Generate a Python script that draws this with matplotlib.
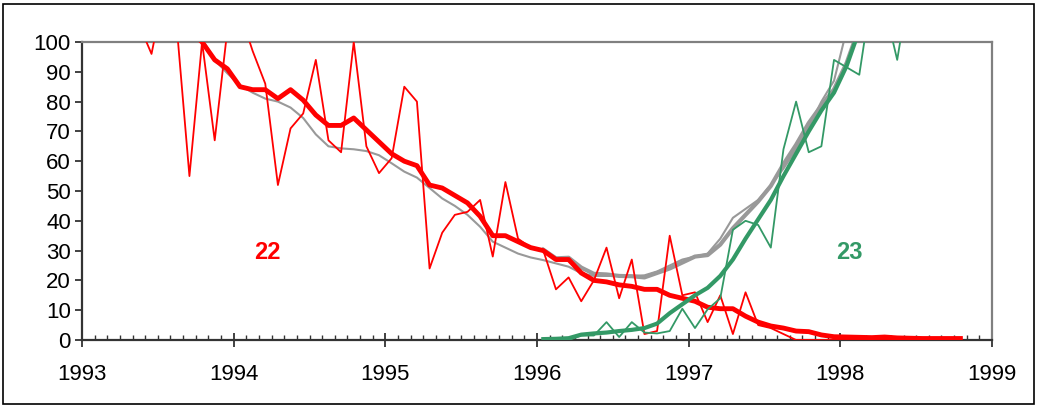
import numpy as np
import matplotlib.pyplot as plt
from matplotlib.patches import Rectangle

plt.rcParams['font.family'] = ['Liberation Sans', 'DejaVu Sans']

# monthly values, index k = months since Jan 1993 (plotted at mid-month)
red_thin_start = 4
red_thin = [106, 96, 117, 105, 55, 100, 67, 104, 110, 97, 86, 52, 71, 76, 94, 67, 63, 100,
            65, 56, 61, 85, 80, 24, 36, 42, 43, 47, 28, 53, 34, 31, 30, 17, 21, 13, 20, 31,
            14, 27, 2, 3, 35, 15, 16, 6, 15, 2, 16, 5, 4, 2, 0,
            0, 0, 0, 0, 0, 0, 0, 0, 0, 0, 0, 0, 0]

red_thick_start = 8
red_thick = [104, 100, 94, 91, 85, 84, 84, 81, 84, 80.5, 75.5, 72, 72, 74.5, 70.5, 66.5,
             62.5, 60, 58.5, 52, 51, 48.5, 46, 41.5, 35, 35, 33, 31, 30, 27, 27, 22.5, 20,
             19.5, 18.5, 18, 17, 17, 15, 14, 13, 11, 10.5, 10.5, 8, 6, 4.7, 4, 3, 2.8, 1.7,
             1.1, 1, 0.9, 0.8, 1, 0.7, 0.6, 0.5, 0.5, 0.5, 0.5]

grey_thin_start = 8
grey_thin = [108, 101, 94, 89.5, 85.5, 83, 81, 80, 78, 74.5, 69, 65, 64.3, 64, 63.4, 62,
             59.3, 56.5, 54.5, 51, 47.5, 45, 42, 38, 33, 31, 29, 27.7, 26.8, 25.7, 24.6,
             22.4, 21.5, 21.5, 21.5, 21.5, 21.7, 23, 25, 27, 28, 29, 34, 41, 44, 47, 52,
             57.5, 64, 71.5, 80, 87, 104]

green_thick_start = 36
green_thick = [0.3, 0.4, 0.6, 1.8, 2.2, 2.5, 3, 3.4, 4, 5.5, 9, 12, 15, 17.5, 21.5, 27, 34,
               40.5, 47, 55, 62.5, 70, 77, 83, 92, 104]

green_thin_start = 36
green_thin = [0, 0, 0, 1.5, 1.5, 6, 1, 6, 2.5, 2.2, 3, 10.5, 4, 10.3, 14, 37, 40, 38.6, 31,
              64, 80, 63, 65, 94, 91.5, 89, 117, 112, 94, 120]


def months(start, n):
    return 1993 + (np.arange(start, start + n) + 0.5) / 12


fig = plt.figure(figsize=(10.4, 4.12), dpi=100)
ax = fig.add_axes((82 / 1040, 1 - 340 / 412, 910 / 1040, 298 / 412))

# total smoothed = cycle 22 smoothed + cycle 23 smoothed
rt = np.array(red_thick)
gt = np.array(green_thick)
off = green_thick_start - red_thick_start
grey_thick = rt[off:off + len(gt)] + gt

grey = '#999999'
red = '#ff0000'
green = '#339966'

ax.plot(months(green_thick_start, len(grey_thick)), grey_thick, color=grey, lw=3.0, zorder=2)
ax.plot(months(grey_thin_start, len(grey_thin)), grey_thin, color=grey, lw=1.5, zorder=2)
ax.plot(months(red_thin_start, len(red_thin)), red_thin, color=red, lw=1.3, zorder=3)
ax.plot(months(red_thick_start, len(red_thick)), red_thick, color=red, lw=3.5, zorder=3)
ax.plot(months(green_thin_start, len(green_thin)), green_thin, color=green, lw=1.3, zorder=4)
ax.plot(months(green_thick_start, len(green_thick)), green_thick, color=green, lw=3.0, zorder=4)

ax.text(1994.22, 29.5, '22', color=red, fontsize=17, fontweight='bold', ha='center', va='center')
ax.text(1998.06, 29.5, '23', color=green, fontsize=17, fontweight='bold', ha='center', va='center')

ax.set_xlim(1993, 1999)
ax.set_ylim(0, 100)
ax.set_yticks(range(0, 101, 10))
ax.set_xticks(range(1993, 2000))
ax.set_xticks(1993 + np.arange(0, 73) / 12, minor=True)

for s in ['top', 'right']:
    ax.spines[s].set_color('#808080')
    ax.spines[s].set_linewidth(1.6)
for s in ['left', 'bottom']:
    ax.spines[s].set_color('#333333')
    ax.spines[s].set_linewidth(1.6)

ax.tick_params(axis='y', direction='out', length=5, width=1.3, color='#333333',
               labelsize=16, pad=3)
ax.tick_params(axis='x', which='major', direction='inout', length=10, width=1.3,
               color='#333333', labelsize=16, pad=12)
ax.tick_params(axis='x', which='minor', direction='in', length=3.6, width=1.0, color='#333333')

# outer chart frame
fig.patches.append(Rectangle((3 / 1040, 1 - 404 / 412), 1031 / 1040, 400 / 412,
                             transform=fig.transFigure, fill=False, ec='black', lw=1.2))

fig.savefig('out.png', dpi=100)
